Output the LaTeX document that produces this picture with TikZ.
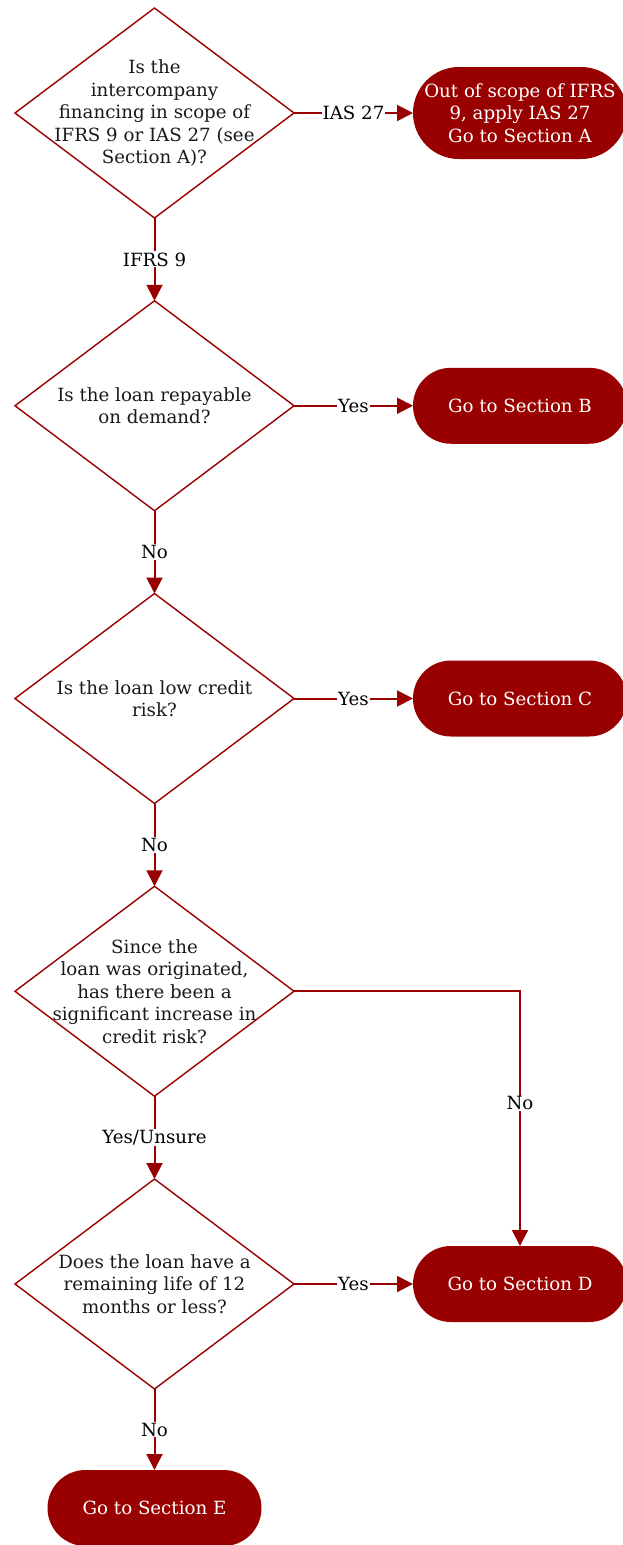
\documentclass[tikz,border=0pt]{standalone}
\usepackage{fontspec}
\setmainfont{DejaVu Serif}
\usepackage{tikz}
\usetikzlibrary{arrows.meta,positioning,shapes.geometric,shapes.misc}
\definecolor{ifrsred}{RGB}{153,0,0}

\begin{document}
\begin{tikzpicture}[
  x=1pt, y=-1pt,
  node distance=82.75pt and 119pt,
  every node/.style={font=\fontsize{18.2}{22.5}\selectfont},
  decision/.style={diamond, draw=ifrsred, line width=1.4pt, minimum width=279pt, minimum height=210pt, inner sep=0pt, outer sep=0pt},
  qtext/.style={align=center, inner sep=0pt, text=black!90},
  outcome/.style={rounded rectangle, fill=ifrsred, text=white, minimum width=218pt, minimum height=76pt, inner sep=2pt, outer sep=0pt, align=center},
  lbl/.style={fill=white, inner sep=1pt, text=black},
  arr/.style={-{Triangle[length=16pt, width=16pt]}, draw=ifrsred, line width=2pt}
]
  \useasboundingbox (0,0) rectangle (623,1545);

  \node[decision] (scope) at (154.5,113) {};
  \node[qtext] (scopetxt) at (scope) {Is the\\intercompany\\financing in scope of\\IFRS 9 or IAS 27 (see\\Section A)?};
  \node[outcome, right=of scope, minimum height=92pt] (secA) {Out of scope of IFRS\\9, apply IAS 27\\Go to Section A};

  \node[decision, below=of scope] (demand) {};
  \node[qtext] (demandtxt) at (demand) {Is the loan repayable\\on demand?};
  \node[outcome, right=of demand] (secB) {Go to Section B};

  \node[decision, below=of demand] (lowrisk) {};
  \node[qtext] (lowrisktxt) at (lowrisk) {Is the loan low credit\\risk?};
  \node[outcome, right=of lowrisk] (secC) {Go to Section C};

  \node[decision, below=of lowrisk] (sicr) {};
  \node[qtext] (sicrtxt) at (sicr) {Since the\\loan was originated,\\has there been a\\significant increase in\\credit risk?};

  \node[decision, below=of sicr] (life) {};
  \node[qtext] (lifetxt) at (life) {Does the loan have a\\remaining life of 12\\months or less?};
  \node[outcome, right=of life] (secD) {Go to Section D};

  \node[outcome, below=81pt of life] (secE) {Go to Section E};

  \draw[arr] (scope) -- node[lbl] (ias) {IAS 27} (secA);
  \draw[arr] (scope) -- node[lbl] (ifrs) {IFRS 9} (demand);
  \draw[arr] (demand) -- node[lbl] (yesB) {Yes} (secB);
  \draw[arr] (demand) -- node[lbl] (noB) {No} (lowrisk);
  \draw[arr] (lowrisk) -- node[lbl] (yesC) {Yes} (secC);
  \draw[arr] (lowrisk) -- node[lbl] (noC) {No} (sicr);
  \draw[arr] (sicr.east) -| node[lbl, pos=0.72] (noD) {No} (secD.north);
  \draw[arr] (sicr) -- node[lbl] (unsure) {Yes/Unsure} (life);
  \draw[arr] (life) -- node[lbl] (yesD) {Yes} (secD);
  \draw[arr] (life) -- node[lbl] (noE) {No} (secE);
\end{tikzpicture}
\end{document}
